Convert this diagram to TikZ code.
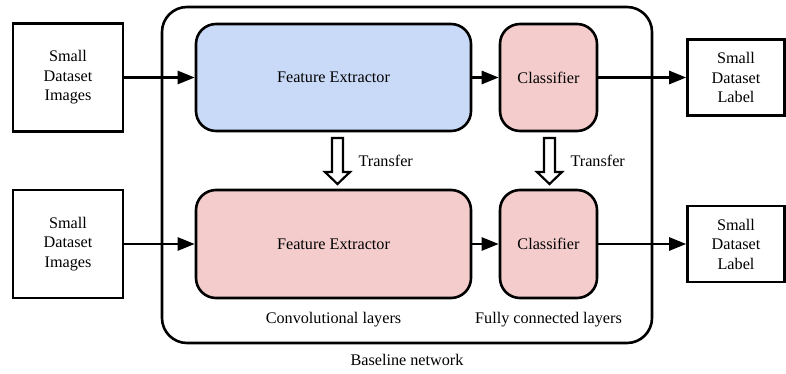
\documentclass[tikz,border=0pt]{standalone}
\usepackage{fontspec}
\setmainfont{Liberation Serif}
\usetikzlibrary{arrows.meta}
\definecolor{featblue}{HTML}{C9DAF8}
\definecolor{clspink}{HTML}{F4CCCC}
\tikzset{
	databox/.style={draw, line width=2.6pt, align=center, inner sep=0pt},
	layerbox/.style={draw, line width=2.6pt, rounded corners=20pt, inner sep=0pt},
	flow/.style={line width=2.6pt, -{Triangle[length=17pt,width=13pt]}},
}
\def\transfer(#1,#2){\draw[line width=2.2pt, fill=white, line join=miter] (#1-5.5,#2) -- (#1+5.5,#2) -- (#1+5.5,#2-34) -- (#1+12.5,#2-34) -- (#1,#2-46) -- (#1-12.5,#2-34) -- (#1-5.5,#2-34) -- cycle;}

\begin{document}
\begin{tikzpicture}[x=1pt, y=1pt, font=\fontsize{16.2}{19.5}\selectfont]
			%%%%% START %%%%%
			\useasboundingbox (0, 0) rectangle (786, 373);
			
			% baseline network frame
			\node[draw, line width=2.6pt, rounded corners=25pt, minimum width=490pt, minimum height=336pt] (net) at (407, 198) {};
			
			% inputs
			\node[databox, minimum width=110pt, minimum height=108pt] (img1) at (68, 295.5) {Small\\Dataset\\Images};
			\node[databox, minimum width=110pt, minimum height=108pt] (img2) at (68, 129) {Small\\Dataset\\Images};
			
			% layers
			\node[layerbox, fill=featblue, minimum width=275pt, minimum height=107pt] (fe1) at (333.5, 295.5) {Feature Extractor};
			\node[layerbox, fill=clspink, minimum width=97pt, minimum height=107pt] (cl1) at (548.5, 295.5) {Classifier};
			\node[layerbox, fill=clspink, minimum width=275pt, minimum height=108pt] (fe2) at (333.5, 129) {Feature Extractor};
			\node[layerbox, fill=clspink, minimum width=97pt, minimum height=108pt] (cl2) at (548.5, 129) {Classifier};
			
			% outputs
			\node[databox, minimum width=97pt, minimum height=76pt] (lab1) at (736, 295.5) {Small\\Dataset\\Label};
			\node[databox, minimum width=97pt, minimum height=76pt] (lab2) at (736, 129) {Small\\Dataset\\Label};
			
			\draw[flow] (img1) -- (fe1);
			\draw[flow] (fe1) -- (cl1);
			\draw[flow] (cl1) -- (lab1);
			\draw[flow] (img2) -- (fe2);
			\draw[flow] (fe2) -- (cl2);
			\draw[flow] (cl2) -- (lab2);
			
			% transfer between the two networks
			\transfer(337.5, 235)
			\transfer(549.5, 235)
			\node[anchor=west] (tr1) at (355, 212) {Transfer};
			\node[anchor=west] (tr2) at (567, 212) {Transfer};
			
			\node (conv) at (333.5, 53) {Convolutional layers};
			\node (fc) at (548.5, 53) {Fully connected layers};
			\node (base) at (407, 13) {Baseline network};
			
			%%%%% END %%%%%
		\end{tikzpicture}
\end{document}
